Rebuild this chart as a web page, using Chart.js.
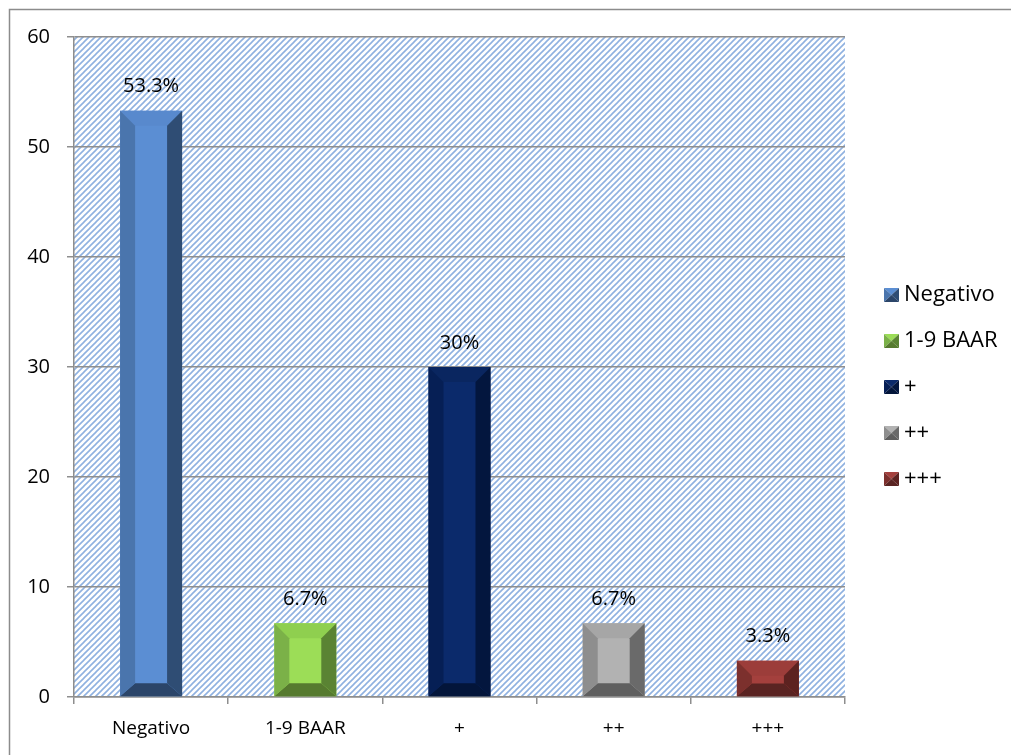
<!DOCTYPE html>
<html>
<head>
<meta charset="utf-8">
<script src="https://cdn.jsdelivr.net/npm/chart.js@4/dist/chart.umd.min.js"></script>
<style>
  html, body { margin: 0; padding: 0; background: #fff; }
  #wrap { width: 1011px; height: 755px; }
</style>
</head>
<body>
<div id="wrap"><canvas id="baciloscopia"></canvas></div>
<script>
// Baciloscopia results (percent of cases)
const categories = ['Negativo', '1-9 BAAR', '+', '++', '+++'];
const percentages = [53.3, 6.7, 30, 6.7, 3.3];
const yTicks = [0, 10, 20, 30, 40, 50, 60];

// Bevel colours per bar: centre, top, left, right, bottom
const faceColors = [
    ['#5b8ed3', '#5889cd', '#4a75ad', '#2f4d74', '#2b4569'],
    ['#9cdd57', '#8fcf4f', '#7bb148', '#5a8333', '#567a2f'],
    ['#0b2a6b', '#0a2660', '#061f55', '#03163e', '#03153a'],
    ['#b2b2b2', '#a6a6a6', '#8e8e8e', '#6a6a6a', '#5f5f5f'],
    ['#a4403d', '#9c3d3a', '#7c302d', '#5c2220', '#5a2422']
];

const FONT = "'Open Sans', 'Liberation Sans', sans-serif";
const GRID = '#8e8e8e';

// diagonal hatch used behind the bars
function hatchPattern(ctx) {
    const tile = document.createElement('canvas');
    tile.width = 6; tile.height = 6;
    const t = tile.getContext('2d');
    t.fillStyle = '#ffffff';
    t.fillRect(0, 0, 6, 6);
    t.strokeStyle = '#8fb1e0';
    t.lineWidth = 1.6;
    [[-1, 7, 7, -1], [-1, 1, 1, -1], [5, 7, 7, 5]].forEach(s => {
        t.beginPath(); t.moveTo(s[0], s[1]); t.lineTo(s[2], s[3]); t.stroke();
    });
    return ctx.createPattern(tile, 'repeat');
}

function poly(ctx, pts, color) {
    ctx.fillStyle = color;
    ctx.beginPath();
    ctx.moveTo(pts[0][0], pts[0][1]);
    for (let i = 1; i < pts.length; i++) ctx.lineTo(pts[i][0], pts[i][1]);
    ctx.closePath();
    ctx.fill();
}

const chartFrame = {
    id: 'chartFrame',
    beforeDraw(chart) {
        const {ctx, chartArea: a} = chart;
        ctx.save();
        ctx.strokeStyle = '#8c8c8c';
        ctx.lineWidth = 1.5;
        ctx.strokeRect(9.5, 9.5, chart.width + 10, chart.height + 10);
        ctx.fillStyle = hatchPattern(ctx);
        ctx.fillRect(a.left, a.top, a.right - a.left, a.bottom - a.top);
        ctx.restore();
    }
};

// bevel faces and value labels on each bar
const bevelBars = {
    id: 'bevelBars',
    afterDatasetsDraw(chart) {
        const {ctx} = chart;
        const meta = chart.getDatasetMeta(0);
        ctx.save();
        meta.data.forEach((bar, i) => {
            const c = faceColors[i];
            const l = bar.x - bar.width / 2, r = bar.x + bar.width / 2;
            const t = bar.y, b = bar.base;
            const h = b - t;
            const bt = Math.min(15, h * 0.42), bb = Math.min(13, h * 0.36), bs = 15;
            poly(ctx, [[l, t], [r, t], [r - bs, t + bt], [l + bs, t + bt]], c[1]);
            poly(ctx, [[l, b], [r, b], [r - bs, b - bb], [l + bs, b - bb]], c[4]);
            poly(ctx, [[l, t], [l + bs, t + bt], [l + bs, b - bb], [l, b]], c[2]);
            poly(ctx, [[r, t], [r - bs, t + bt], [r - bs, b - bb], [r, b]], c[3]);

            ctx.fillStyle = '#000';
            ctx.font = '20px ' + FONT;
            ctx.textAlign = 'center';
            ctx.textBaseline = 'middle';
            ctx.fillText(percentages[i] + '%', bar.x, t - 24);
        });
        ctx.restore();
    }
};

// legend at the right with small pyramid swatches
const sideLegend = {
    id: 'sideLegend',
    afterDraw(chart) {
        const {ctx, chartArea: a} = chart;
        const x0 = a.right + 39;
        const y0 = 295;
        ctx.save();
        categories.forEach((name, i) => {
            const c = faceColors[i];
            const y = y0 + i * 46;
            const l = x0, r = x0 + 15, t = y - 7, b = y + 7;
            const cx = (l + r) / 2, cy = (t + b) / 2;
            poly(ctx, [[l, t], [r, t], [cx, cy]], c[0]);
            poly(ctx, [[l, t], [cx, cy], [l, b]], c[2]);
            poly(ctx, [[r, t], [cx, cy], [r, b]], c[3]);
            poly(ctx, [[l, b], [cx, cy], [r, b]], c[4]);
            ctx.fillStyle = '#000';
            ctx.font = '22px ' + FONT;
            ctx.textAlign = 'left';
            ctx.textBaseline = 'middle';
            ctx.fillText(name, r + 5, y);
        });
        ctx.restore();
    }
};

new Chart(document.getElementById('baciloscopia'), {
    type: 'bar',
    data: {
        labels: categories,
        datasets: [{
            data: percentages,
            backgroundColor: faceColors.map(c => c[0]),
            borderWidth: 0,
            barPercentage: 0.402,
            categoryPercentage: 1
        }]
    },
    options: {
        responsive: true,
        maintainAspectRatio: false,
        animation: false,
        layout: { padding: { top: 37, right: 166, left: 0, bottom: 0 } },
        plugins: {
            legend: { display: false },
            tooltip: { enabled: false }
        },
        scales: {
            x: {
                afterFit: s => { s.height = 58; },
                grid: { display: true, drawOnChartArea: false, offset: true, tickLength: 7, color: GRID, lineWidth: 1.5 },
                border: { color: GRID, width: 1.5 },
                ticks: { color: '#000', padding: 13, font: { family: FONT, size: 19 } }
            },
            y: {
                min: 0,
                max: 60,
                afterFit: s => { s.width = 74; },
                afterBuildTicks: s => { s.ticks = yTicks.map(v => ({ value: v })); },
                grid: { color: GRID, lineWidth: 1.5, tickLength: 7 },
                border: { color: GRID, width: 1.5 },
                ticks: { color: '#000', padding: 17, font: { family: FONT, size: 20 } }
            }
        }
    },
    plugins: [chartFrame, bevelBars, sideLegend]
});
</script>
</body>
</html>
